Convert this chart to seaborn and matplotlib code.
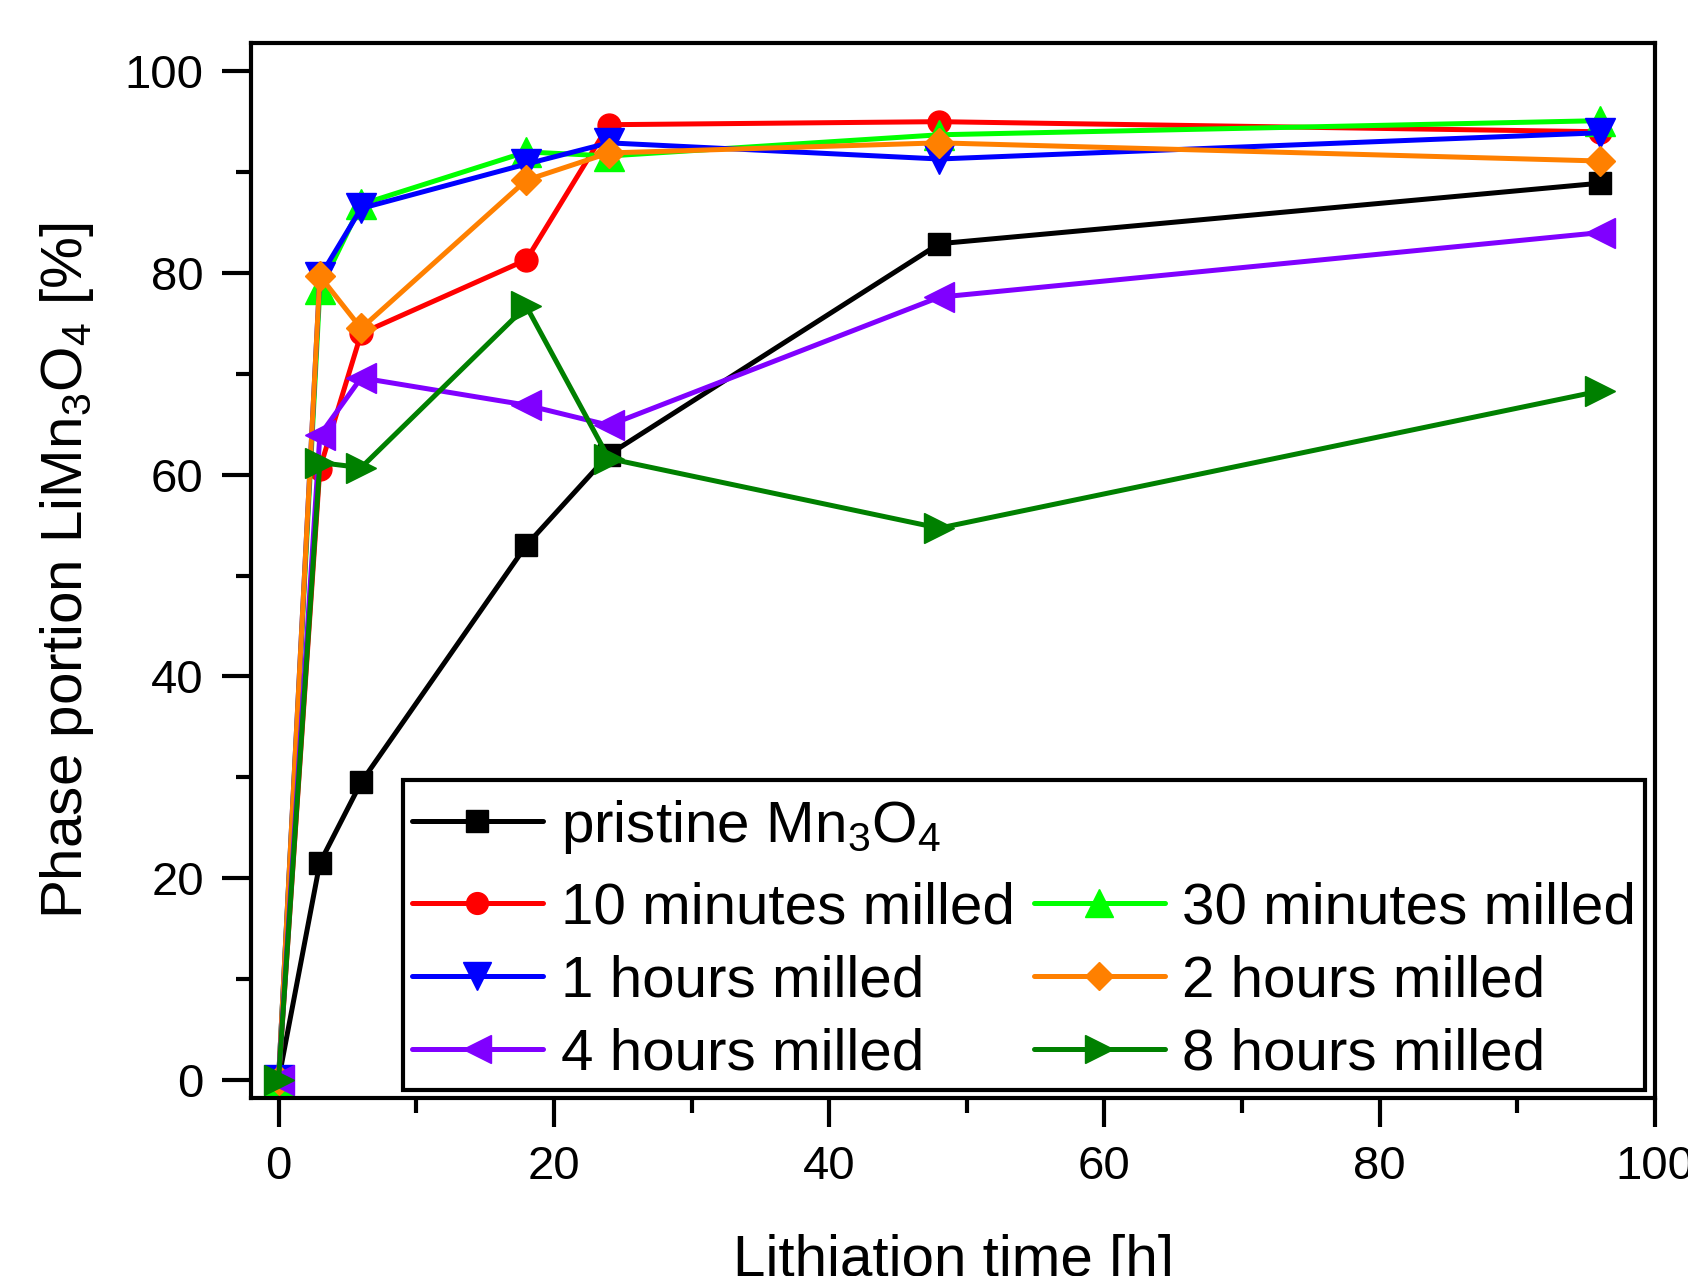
import pandas as pd
import seaborn as sns
import matplotlib.pyplot as plt
from matplotlib.lines import Line2D
from matplotlib.patches import Rectangle
from matplotlib.ticker import MultipleLocator

# lithiation times [h]
time_h = [0, 3, 6, 18, 24, 48, 96]

# phase portion LiMn3O4 [%]
pristine = [0, 21.5, 29.5, 53.0, 62.0, 82.9, 88.9]
min10 = [0, 60.6, 74.0, 81.3, 94.7, 95.0, 94.0]
min30 = [0, 78.4, 86.8, 92.0, 91.6, 93.7, 95.1]
hour1 = [0, 79.6, 86.4, 90.8, 92.9, 91.3, 93.9]
hour2 = [0, 79.7, 74.5, 89.2, 91.9, 92.9, 91.1]
hour4 = [0, 63.9, 69.6, 66.9, 64.9, 77.6, 84.0]
hour8 = [0, 61.2, 60.7, 76.7, 61.6, 54.7, 68.3]

labels = ['pristine Mn$_3$O$_4$', '10 minutes milled', '30 minutes milled',
          '1 hours milled', '2 hours milled', '4 hours milled', '8 hours milled']
series = [pristine, min10, min30, hour1, hour2, hour4, hour8]
colors = ['#000000', '#FF0000', '#00FF00', '#0000FF', '#FF8000', '#8000FF', '#008000']
markers = ['s', 'o', '^', 'v', 'D', '<', '>']
msizes = [16, 16.5, 21, 21, 15.5, 21, 21]


def build_frame():
    rows = []
    for lab, vals in zip(labels, series):
        for t, v in zip(time_h, vals):
            rows.append({'time': t, 'portion': v, 'sample': lab})
    return pd.DataFrame(rows)


df = build_frame()

sns.set_style('ticks')
plt.rcParams['font.family'] = ['Liberation Sans', 'DejaVu Sans']
plt.rcParams['mathtext.default'] = 'regular'
plt.rcParams['text.color'] = 'black'
plt.rcParams['axes.labelcolor'] = 'black'
plt.rcParams['xtick.color'] = 'black'
plt.rcParams['ytick.color'] = 'black'

fig = plt.figure(figsize=(16.88, 12.76), dpi=100)
ax = fig.add_axes([0.1487, 0.1395, 0.9805 - 0.1487, 0.9663 - 0.1395])

for lab, col, mk, ms in zip(labels, colors, markers, msizes):
    sub = df[df['sample'] == lab]
    sns.lineplot(data=sub, x='time', y='portion', ax=ax, color=col, marker=mk,
                 markersize=ms, markeredgecolor=col, markeredgewidth=1,
                 linewidth=3.6, errorbar=None, legend=False)

ax.set_xlim(-2, 100)
ax.set_ylim(-1.8, 102.8)
ax.xaxis.set_major_locator(MultipleLocator(20))
ax.xaxis.set_minor_locator(MultipleLocator(10))
ax.yaxis.set_major_locator(MultipleLocator(20))
ax.yaxis.set_minor_locator(MultipleLocator(10))
ax.tick_params(which='major', length=21, width=3, labelsize=34, pad=13,
               direction='out', color='black', labelcolor='black')
ax.tick_params(which='minor', length=10.5, width=3, direction='out', color='black')
for sp in ax.spines.values():
    sp.set_visible(True)
    sp.set_linewidth(3)
    sp.set_color('black')

ax.set_xlabel('Lithiation time [h]', fontsize=42, labelpad=32)
ax.set_ylabel('Phase portion LiMn$_3$O$_4$ [%]', fontsize=42, labelpad=21)

# legend: box drawn by hand, pristine row on top, others in two columns
handles = []
for col, mk, ms in zip(colors, markers, msizes):
    handles.append(Line2D([], [], color=col, marker=mk, markersize=ms * 0.95,
                          markeredgecolor=col, linewidth=3.6))

leg_kw = dict(fontsize=42, handlelength=2.25, handletextpad=0.3,
              columnspacing=0.33, labelspacing=0.32, borderpad=0.15,
              borderaxespad=0, frameon=False)

frame = Rectangle((0.1083, 0.0076), 0.9929 - 0.1083, 0.3014 - 0.0076,
                  transform=ax.transAxes, facecolor='white', edgecolor='black',
                  linewidth=3, zorder=4.5)
ax.add_patch(frame)

order = [1, 3, 5, 2, 4, 6]
leg_main = ax.legend([handles[i] for i in order], [labels[i] for i in order],
                     ncol=2, loc='lower right', bbox_to_anchor=(0.9929, 0.0076),
                     **leg_kw)
leg_top = ax.legend([handles[0]], [labels[0]], loc='upper left',
                    bbox_to_anchor=(0.1083, 0.2929), **leg_kw)
ax.add_artist(leg_main)

fig.savefig('out.png', dpi=100)
